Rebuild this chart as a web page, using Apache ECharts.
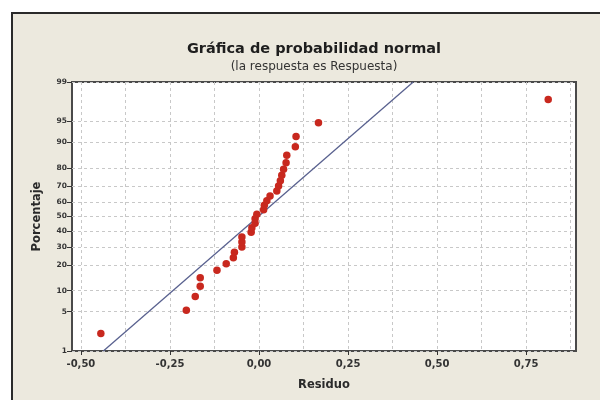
<!DOCTYPE html>
<html><head><meta charset="utf-8">
<script src="https://cdn.jsdelivr.net/npm/echarts@6/dist/echarts.min.js"></script>
<style>html,body{margin:0;padding:0;background:#fff}#c{width:600px;height:400px}</style>
</head><body><div id="c"></div>
<script>
// Sorted residuals (x) and their plotted percentages (y)
const residuals = [-0.444, -0.204, -0.179, -0.165, -0.165, -0.118, -0.092, -0.072,
  -0.069, -0.048, -0.048, -0.048, -0.022, -0.020, -0.011, -0.011,
  -0.006, 0.013, 0.015, 0.022, 0.031, 0.050, 0.055, 0.060,
  0.064, 0.069, 0.076, 0.078, 0.102, 0.104, 0.167, 0.812];
const percents = [2.16, 5.25, 8.33, 11.42, 14.51, 17.59, 20.68, 23.77,
  26.85, 29.94, 33.02, 36.11, 39.20, 42.28, 45.37, 48.46,
  51.54, 54.63, 57.72, 60.80, 63.89, 66.98, 70.06, 73.15,
  76.23, 79.32, 82.41, 85.49, 88.58, 91.67, 94.75, 97.84];
// Fitted normal line endpoints
const fitX = [-0.437, 0.433];
const fitPct = [1, 99];
// Axis ticks
const xTickValues = [-0.5, -0.25, 0, 0.25, 0.5, 0.75];
const xGridValues = [-0.5, -0.375, -0.25, -0.125, 0, 0.125, 0.25, 0.375, 0.5, 0.625, 0.75, 0.875];
const yTickPct = [1, 5, 10, 20, 30, 40, 50, 60, 70, 80, 90, 95, 99];
const yTickLabels = ['1', '5', '10', '20', '30', '40', '50', '60', '70', '80', '90', '95', '99'];
const titleText = 'Gráfica de probabilidad normal';
const subtitleText = '(la respuesta es Respuesta)';
const xName = 'Residuo';
const yName = 'Porcentaje';

// inverse standard normal CDF (probability scale)
function probit(p) {
  const a=[-3.969683028665376e+01,2.209460984245205e+02,-2.759285104469687e+02,1.383577518672690e+02,-3.066479806614716e+01,2.506628277459239e+00];
  const b=[-5.447609879822406e+01,1.615858368580409e+02,-1.556989798598866e+02,6.680131188771972e+01,-1.328068155288572e+01];
  const c=[-7.784894002430293e-03,-3.223964580411365e-01,-2.400758277161838e+00,-2.549732539343734e+00,4.374664141464968e+00,2.938163982698783e+00];
  const d=[7.784695709041462e-03,3.224671290700398e-01,2.445134137142996e+00,3.754408661907416e+00];
  const pl = 0.02425, ph = 1 - pl; let q, r;
  if (p < pl) { q = Math.sqrt(-2*Math.log(p)); return (((((c[0]*q+c[1])*q+c[2])*q+c[3])*q+c[4])*q+c[5])/((((d[0]*q+d[1])*q+d[2])*q+d[3])*q+1); }
  if (p <= ph) { q = p - 0.5; r = q*q; return (((((a[0]*r+a[1])*r+a[2])*r+a[3])*r+a[4])*r+a[5])*q/(((((b[0]*r+b[1])*r+b[2])*r+b[3])*r+b[4])*r+1); }
  q = Math.sqrt(-2*Math.log(1-p)); return -(((((c[0]*q+c[1])*q+c[2])*q+c[3])*q+c[4])*q+c[5])/((((d[0]*q+d[1])*q+d[2])*q+d[3])*q+1);
}
const yTickZ = yTickPct.map(p => probit(p / 100));
const yMin = yTickZ[0], yMax = yTickZ[yTickZ.length - 1];

const chart = echarts.init(document.getElementById('c'), null, {renderer: 'canvas'});
const FONT = '"DejaVu Sans", Verdana, sans-serif';
const option = {
  backgroundColor: '#ffffff',
  animation: false,
  graphic: [
    {type: 'rect', z: -100, shape: {x: 12, y: 13, width: 620, height: 420},
     style: {fill: '#ECE9DE', stroke: '#2a2a2a', lineWidth: 2}},
    {type: 'text', z: 100, x: 314, y: 49, style: {text: titleText, font: 'bold 14.5px ' + FONT,
      fill: '#1e1e1e', align: 'center', verticalAlign: 'middle'}},
    {type: 'text', z: 100, x: 314, y: 67, style: {text: subtitleText, font: '12px ' + FONT,
      fill: '#333', align: 'center', verticalAlign: 'middle'}}
  ],
  grid: {left: 72, top: 82, right: 24, bottom: 49, show: true, backgroundColor: '#ffffff',
    borderColor: '#4a4a4a', borderWidth: 2},
  xAxis: [{
    type: 'value', min: -0.525, max: 0.89,
    name: xName, nameLocation: 'middle', nameGap: 28,
    nameTextStyle: {fontFamily: FONT, fontWeight: 'bold', fontSize: 11.5, color: '#2a2a2a'},
    axisLine: {show: false, onZero: false},
    axisTick: {show: true, length: 4, lineStyle: {color: '#333'}, customValues: xTickValues},
    axisLabel: {customValues: xTickValues, fontFamily: FONT, fontWeight: 'bold', fontSize: 10, color: '#333', margin: 8,
      formatter: v => v.toFixed(2).replace('.', ',')},
    splitLine: {show: false}
  }, {
    type: 'value', min: -0.525, max: 0.89, position: 'top',
    axisLine: {show: false, onZero: false}, axisLabel: {show: false},
    axisTick: {show: false, customValues: xGridValues},
    splitLine: {show: true, lineStyle: {color: '#c8c8c8', type: [3, 3], width: 1}}
  }],
  yAxis: {
    type: 'value', min: yMin, max: yMax,
    name: yName, nameLocation: 'middle', nameGap: 29,
    nameTextStyle: {fontFamily: FONT, fontWeight: 'bold', fontSize: 11.5, color: '#2a2a2a'},
    axisLine: {show: false, onZero: false},
    axisTick: {show: true, length: 5, lineStyle: {color: '#333'}, customValues: yTickZ},
    axisLabel: {customValues: yTickZ, fontFamily: FONT, fontWeight: 'bold', fontSize: 7.5, color: '#333', margin: 5,
      formatter: v => { let best = 0; yTickZ.forEach((z, i) => { if (Math.abs(z - v) < Math.abs(yTickZ[best] - v)) best = i; }); return yTickLabels[best]; }},
    splitLine: {show: true, lineStyle: {color: '#c8c8c8', type: [3, 3], width: 1}}
  },
  series: [{
    type: 'line', xAxisIndex: 0, silent: true, symbol: 'none',
    data: fitX.map((x, i) => [x, probit(fitPct[i] / 100)]),
    lineStyle: {color: '#59618f', width: 1.3}, z: 3
  }, {
    type: 'scatter', xAxisIndex: 0, symbol: 'circle', symbolSize: 7.5,
    data: residuals.map((r, i) => [r, probit(percents[i] / 100)]),
    itemStyle: {color: '#c8281e', opacity: 1}, z: 4
  }]
};
chart.setOption(option);
</script></body></html>
